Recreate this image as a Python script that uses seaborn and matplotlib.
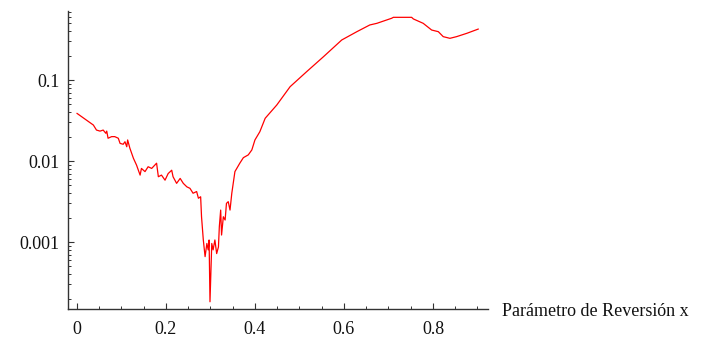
import numpy as np
import pandas as pd
import matplotlib
matplotlib.use("Agg")
import matplotlib.pyplot as plt
import matplotlib.ticker as mticker
import seaborn as sns

# valores
x_vals = [0.000, 0.037, 0.044, 0.052, 0.059, 0.065, 0.067, 0.070, 0.078, 0.085,
          0.093, 0.097, 0.104, 0.108, 0.112, 0.114, 0.119, 0.127, 0.134, 0.142,
          0.145, 0.153, 0.160, 0.168, 0.175, 0.179, 0.183, 0.190, 0.198, 0.205,
          0.213, 0.216, 0.224, 0.232, 0.239, 0.247, 0.254, 0.261, 0.269, 0.273,
          0.278, 0.280, 0.284, 0.288, 0.292, 0.295, 0.297, 0.299,
          0.303, 0.306, 0.310, 0.314, 0.318, 0.320, 0.323, 0.325, 0.329, 0.333,
          0.336, 0.340, 0.344, 0.348, 0.355, 0.366, 0.374, 0.385, 0.393, 0.400,
          0.411, 0.423, 0.449, 0.479, 0.516, 0.554, 0.595, 0.629, 0.658, 0.674,
          0.707, 0.711, 0.752, 0.756, 0.778, 0.797, 0.812, 0.823, 0.838, 0.853,
          0.876, 0.902]
y_vals = [0.0388, 0.0278, 0.0241, 0.0234, 0.0241, 0.0220, 0.0234, 0.0191, 0.0200, 0.0200,
          0.0191, 0.0165, 0.0161, 0.0173, 0.0150, 0.0182, 0.0144, 0.0108, 0.0089, 0.0067,
          0.0081, 0.0074, 0.0085, 0.0081, 0.0089, 0.0094, 0.0064, 0.0067, 0.0058, 0.0070,
          0.0077, 0.0064, 0.0053, 0.0061, 0.0053, 0.0048, 0.0046, 0.0040, 0.0042, 0.00347,
          0.00362, 0.00205, 0.00106, 0.00066, 0.00096, 0.00080, 0.00106, 0.000183,
          0.00096, 0.00080, 0.00106, 0.00072, 0.00087, 0.00155, 0.00248, 0.00122, 0.00205, 0.00187,
          0.0030, 0.00315, 0.00248, 0.0040, 0.0074, 0.0094, 0.0110, 0.0119, 0.0137, 0.0182,
          0.0230, 0.0337, 0.0491, 0.0827, 0.1265, 0.194, 0.312, 0.395, 0.478, 0.501,
          0.578, 0.594, 0.594, 0.567, 0.501, 0.414, 0.395, 0.343, 0.327, 0.343,
          0.377, 0.426]

y_ticks = [0.1, 0.01, 0.001]
y_labels = ["0.1", "0.01", "0.001"]
x_ticks = [0, 0.2, 0.4, 0.6, 0.8]
x_labels = ["0", "0.2", "0.4", "0.6", "0.8"]
x_label = "Parámetro de Reversión x"

df = pd.DataFrame({"x": x_vals, "y": y_vals})

sns.set_style("ticks")
plt.rcParams["font.family"] = ["Liberation Serif", "DejaVu Serif"]

fig = plt.figure(figsize=(7.06, 3.42), dpi=100)
ax = fig.add_axes([68 / 706, 33 / 342, 420 / 706, 298 / 342])

sns.lineplot(data=df, x="x", y="y", estimator=None, sort=False,
             color="red", linewidth=0.9, ax=ax)

ax.set_yscale("log")
ax.set_xlim(-0.02, 0.9236)
ax.set_ylim(1.49e-4, 0.711)

ax.yaxis.set_major_locator(mticker.FixedLocator(y_ticks))
ax.yaxis.set_major_formatter(mticker.FixedFormatter(y_labels))
ax.yaxis.set_minor_locator(mticker.LogLocator(base=10, subs=np.arange(2, 10)))
ax.yaxis.set_minor_formatter(mticker.NullFormatter())

ax.xaxis.set_major_locator(mticker.FixedLocator(x_ticks))
ax.xaxis.set_major_formatter(mticker.FixedFormatter(x_labels))
ax.xaxis.set_minor_locator(mticker.MultipleLocator(0.05))

ax.set_xlabel("")
ax.set_ylabel("")
sns.despine(ax=ax)
for s in ["left", "bottom"]:
    ax.spines[s].set_color("#333333")
    ax.spines[s].set_linewidth(1.0)

ax.tick_params(which="major", direction="in", length=4, width=0.8,
               color="#333333", labelsize=13, labelcolor="#111111")
ax.tick_params(which="minor", direction="in", length=2.5, width=0.7,
               color="#333333")
ax.tick_params(axis="x", which="major", pad=9)
ax.tick_params(axis="y", which="major", pad=6)

ax.annotate(x_label, xy=(1, 0), xycoords="axes fraction",
            xytext=(14, -3), textcoords="offset pixels",
            ha="left", va="center", fontsize=13, color="#111111")

fig.savefig("out.png", dpi=100)
